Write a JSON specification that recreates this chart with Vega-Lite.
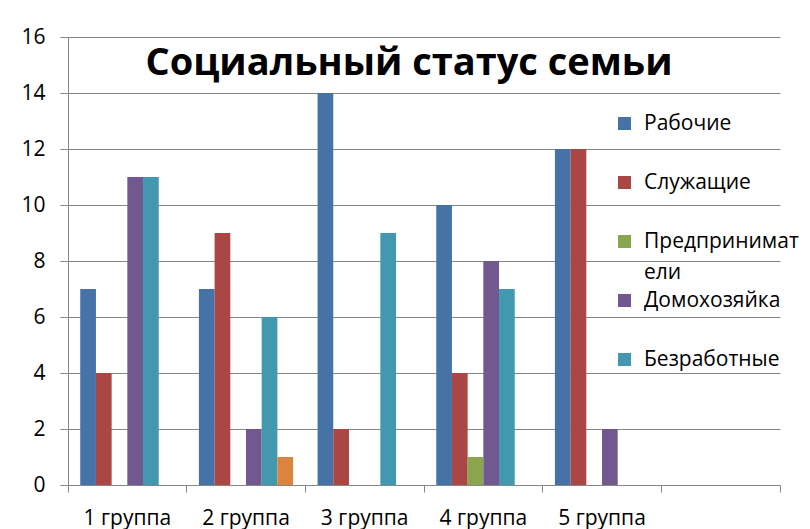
{
  "$schema": "https://vega.github.io/schema/vega-lite/v6.json",
  "width": 712,
  "height": 448,
  "autosize": {"type": "none"},
  "padding": {"left": 68, "top": 37, "right": 30, "bottom": 44},
  "background": "white",
  "title": {
    "text": "Социальный статус семьи",
    "font": "Open Sans",
    "fontSize": 38,
    "fontWeight": "bold",
    "color": "black",
    "anchor": "middle",
    "frame": "group",
    "offset": -57,
    "dx": -15
  },
  "data": {
    "values": [
      {"group": "1 группа", "status": "Рабочие", "count": 7},
      {"group": "1 группа", "status": "Служащие", "count": 4},
      {"group": "1 группа", "status": "Домохозяйка", "count": 11},
      {"group": "1 группа", "status": "Безработные", "count": 11},
      {"group": "2 группа", "status": "Рабочие", "count": 7},
      {"group": "2 группа", "status": "Служащие", "count": 9},
      {"group": "2 группа", "status": "Домохозяйка", "count": 2},
      {"group": "2 группа", "status": "Безработные", "count": 6},
      {"group": "2 группа", "status": "Прочие", "count": 1},
      {"group": "3 группа", "status": "Рабочие", "count": 14},
      {"group": "3 группа", "status": "Служащие", "count": 2},
      {"group": "3 группа", "status": "Безработные", "count": 9},
      {"group": "4 группа", "status": "Рабочие", "count": 10},
      {"group": "4 группа", "status": "Служащие", "count": 4},
      {"group": "4 группа", "status": "Предприниматели", "count": 1},
      {"group": "4 группа", "status": "Домохозяйка", "count": 8},
      {"group": "4 группа", "status": "Безработные", "count": 7},
      {"group": "5 группа", "status": "Рабочие", "count": 12},
      {"group": "5 группа", "status": "Служащие", "count": 12},
      {"group": "5 группа", "status": "Домохозяйка", "count": 2}
    ]
  },
  "mark": {"type": "bar"},
  "encoding": {
    "x": {
      "field": "group",
      "type": "nominal",
      "scale": {
        "domain": ["1 группа", "2 группа", "3 группа", "4 группа", "5 группа", " "],
        "paddingInner": 0,
        "paddingOuter": 0
      },
      "axis": {
        "title": null,
        "labelAngle": 0,
        "labelFont": "Open Sans",
        "labelFontSize": 21,
        "labelColor": "black",
        "domainColor": "#868686",
        "tickColor": "#868686",
        "tickSize": 7,
        "bandPosition": 1,
        "tickExtra": true,
        "labelPadding": 15,
        "grid": false
      }
    },
    "xOffset": {
      "field": "status",
      "type": "nominal",
      "scale": {
        "domain": ["Рабочие", "Служащие", "Предприниматели", "Домохозяйка", "Безработные", "Прочие"],
        "paddingInner": 0,
        "paddingOuter": 0.78
      }
    },
    "y": {
      "field": "count",
      "type": "quantitative",
      "scale": {"domain": [0, 16], "nice": false},
      "axis": {
        "title": null,
        "values": [0, 2, 4, 6, 8, 10, 12, 14, 16],
        "labelFont": "Open Sans",
        "labelFontSize": 21,
        "labelColor": "black",
        "tickSize": 8,
        "labelPadding": 15,
        "gridColor": "#868686",
        "domainColor": "#868686",
        "tickColor": "#868686"
      }
    },
    "color": {
      "field": "status",
      "type": "nominal",
      "scale": {
        "domain": ["Рабочие", "Служащие", "Предприниматели", "Домохозяйка", "Безработные", "Прочие"],
        "range": ["#4572A7", "#AA4643", "#89A54E", "#71588F", "#4198AF", "#DB843D"]
      },
      "legend": {
        "title": null,
        "orient": "none",
        "legendX": 546,
        "legendY": 76,
        "values": ["Рабочие", "Служащие", "Предприниматели", "Домохозяйка", "Безработные"],
        "symbolType": "square",
        "symbolSize": 169,
        "symbolStrokeWidth": 0,
        "labelFont": "Open Sans",
        "labelFontSize": 21,
        "labelColor": "black",
        "labelLimit": 300,
        "labelBaseline": "middle",
        "rowPadding": 6,
        "labelOffset": 9,
        "padding": 0,
        "labelExpr": "datum.label == 'Предприниматели' ? ['Предпринимат', 'ели'] : [datum.label, '']",
        "encode": {
          "labels": {
            "update": {
              "lineHeight": {"value": 31}
            }
          }
        }
      }
    }
  },
  "config": {"view": {"stroke": null}, "font": "Open Sans"}
}
